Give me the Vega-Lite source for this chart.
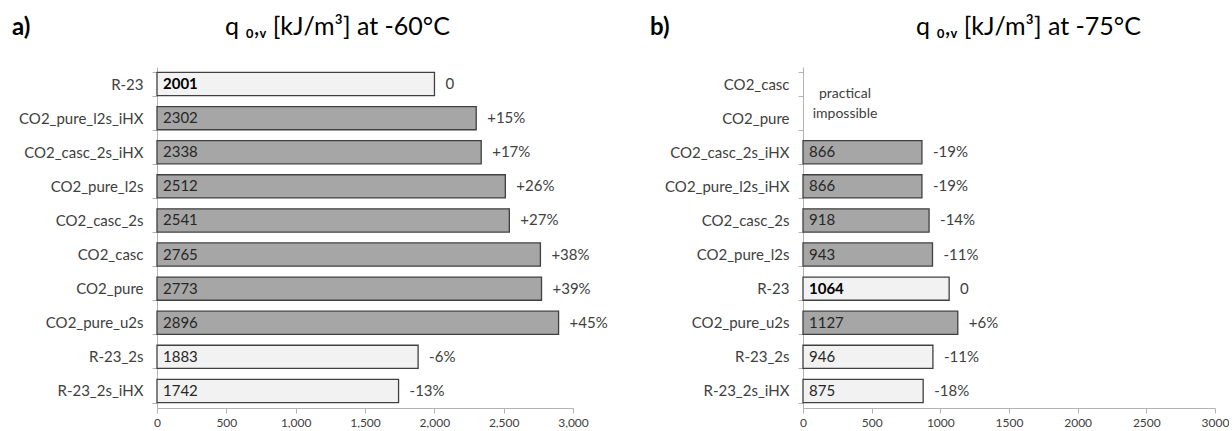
{
  "$schema": "https://vega.github.io/schema/vega-lite/v6.json",
  "background": "white",
  "padding": {"left": 5, "top": 14, "right": 0, "bottom": 0},
  "config": {
    "font": "Lato",
    "view": {"stroke": null},
    "axis": {"grid": false, "labelFont": "Lato", "labelColor": "#404040", "domainColor": "#b3b3b3", "tickColor": "#b3b3b3"}
  },
  "datasets": {
    "left": [
      {"system": "R-23", "value": 2001, "pct": "0", "kind": "R"},
      {"system": "CO2_pure_l2s_iHX", "value": 2302, "pct": "+15%", "kind": "CO2"},
      {"system": "CO2_casc_2s_iHX", "value": 2338, "pct": "+17%", "kind": "CO2"},
      {"system": "CO2_pure_l2s", "value": 2512, "pct": "+26%", "kind": "CO2"},
      {"system": "CO2_casc_2s", "value": 2541, "pct": "+27%", "kind": "CO2"},
      {"system": "CO2_casc", "value": 2765, "pct": "+38%", "kind": "CO2"},
      {"system": "CO2_pure", "value": 2773, "pct": "+39%", "kind": "CO2"},
      {"system": "CO2_pure_u2s", "value": 2896, "pct": "+45%", "kind": "CO2"},
      {"system": "R-23_2s", "value": 1883, "pct": "-6%", "kind": "R"},
      {"system": "R-23_2s_iHX", "value": 1742, "pct": "-13%", "kind": "R"}
    ],
    "right": [
      {"system": "CO2_casc", "value": null, "pct": null, "kind": "CO2", "note": "practical\nimpossible"},
      {"system": "CO2_pure", "value": null, "pct": null, "kind": "CO2", "note": null},
      {"system": "CO2_casc_2s_iHX", "value": 866, "pct": "-19%", "kind": "CO2", "note": null},
      {"system": "CO2_pure_l2s_iHX", "value": 866, "pct": "-19%", "kind": "CO2", "note": null},
      {"system": "CO2_casc_2s", "value": 918, "pct": "-14%", "kind": "CO2", "note": null},
      {"system": "CO2_pure_l2s", "value": 943, "pct": "-11%", "kind": "CO2", "note": null},
      {"system": "R-23", "value": 1064, "pct": "0", "kind": "R", "note": null},
      {"system": "CO2_pure_u2s", "value": 1127, "pct": "+6%", "kind": "CO2", "note": null},
      {"system": "R-23_2s", "value": 946, "pct": "-11%", "kind": "R", "note": null},
      {"system": "R-23_2s_iHX", "value": 875, "pct": "-18%", "kind": "R", "note": null}
    ]
  },
  "spacing": 42,
  "hconcat": [
    {
      "width": 416,
      "height": 341,
      "data": {"name": "left"},
      "title": {"text": "a)", "anchor": "start", "frame": "bounds", "fontSize": 24, "fontWeight": "bold", "font": "Lato", "color": "#000000", "dy": 30, "dx": 7},
      "resolve": {"axis": {"x": "independent"}},
      "encoding": {
        "y": {
          "field": "system", "type": "nominal", "sort": null,
          "scale": {"domain": ["R-23","CO2_pure_l2s_iHX","CO2_casc_2s_iHX","CO2_pure_l2s","CO2_casc_2s","CO2_casc","CO2_pure","CO2_pure_u2s","R-23_2s","R-23_2s_iHX"], "paddingInner": 0.32, "paddingOuter": 0.16},
          "axis": {"title": null, "tickBand": "extent", "tickSize": 5, "labelPadding": 9, "labelFontSize": 15, "minExtent": 152, "maxExtent": 152, "labelLimit": 250}
        }
      },
      "layer": [
        {
          "mark": {"type": "bar", "stroke": "#404040", "strokeWidth": 1.3},
          "encoding": {
            "x": {"field": "value", "type": "quantitative", "scale": {"domain": [0, 3000]},
              "axis": {"orient": "bottom", "values": [0,500,1000,1500,2000,2500,3000], "format": ",d", "title": null, "tickSize": 5, "labelPadding": 4, "labelFontSize": 12, "labelFlush": false}},
            "fill": {"field": "kind", "type": "nominal", "scale": {"domain": ["R", "CO2"], "range": ["#f2f2f2", "#a6a6a6"]}, "legend": null}
          }
        },
        {
          "transform": [{"filter": "datum.system == 'R-23'"}],
          "mark": {"type": "text", "align": "left", "baseline": "middle", "dx": 6, "fontSize": 15, "fontWeight": "bold", "color": "#000000"},
          "encoding": {"x": {"datum": 0, "type": "quantitative", "axis": null}, "text": {"field": "value", "type": "nominal"}}
        },
        {
          "transform": [{"filter": "datum.system != 'R-23' && datum.value != null"}],
          "mark": {"type": "text", "align": "left", "baseline": "middle", "dx": 6, "fontSize": 15, "color": "#262626"},
          "encoding": {"x": {"datum": 0, "type": "quantitative", "axis": null}, "text": {"field": "value", "type": "nominal"}}
        },
        {
          "mark": {"type": "text", "align": "left", "baseline": "middle", "dx": 11, "fontSize": 15, "color": "#404040"},
          "encoding": {
            "x": {"field": "value", "type": "quantitative",
              "axis": {"orient": "top", "labels": false, "ticks": false, "domain": false, "title": "q ₀,ᵥ [kJ/m³] at -60°C", "titleFontSize": 25, "titleFontWeight": "normal", "titleFont": "Lato", "titleColor": "#000000", "titlePadding": 28, "titleX": 180, "titleAlign": "center"}},
            "text": {"field": "pct", "type": "nominal"}
          }
        }
      ]
    },
    {
      "width": 412,
      "height": 341,
      "data": {"name": "right"},
      "title": {"text": "b)", "anchor": "start", "frame": "bounds", "fontSize": 24, "fontWeight": "bold", "font": "Lato", "color": "#000000", "dy": 30, "dx": -14},
      "resolve": {"axis": {"x": "independent"}},
      "encoding": {
        "y": {
          "field": "system", "type": "nominal", "sort": null,
          "scale": {"domain": ["CO2_casc","CO2_pure","CO2_casc_2s_iHX","CO2_pure_l2s_iHX","CO2_casc_2s","CO2_pure_l2s","R-23","CO2_pure_u2s","R-23_2s","R-23_2s_iHX"], "paddingInner": 0.32, "paddingOuter": 0.16},
          "axis": {"title": null, "tickBand": "extent", "tickSize": 5, "labelPadding": 9, "labelFontSize": 15, "minExtent": 139, "maxExtent": 139, "labelLimit": 250}
        }
      },
      "layer": [
        {
          "transform": [{"filter": "datum.value != null"}],
          "mark": {"type": "bar", "stroke": "#404040", "strokeWidth": 1.3},
          "encoding": {
            "x": {"field": "value", "type": "quantitative", "scale": {"domain": [0, 3000]},
              "axis": {"orient": "bottom", "values": [0,500,1000,1500,2000,2500,3000], "format": "d", "title": null, "tickSize": 5, "labelPadding": 4, "labelFontSize": 12, "labelFlush": false}},
            "fill": {"field": "kind", "type": "nominal", "scale": {"domain": ["R", "CO2"], "range": ["#f2f2f2", "#a6a6a6"]}, "legend": null}
          }
        },
        {
          "transform": [{"filter": "datum.system == 'R-23'"}],
          "mark": {"type": "text", "align": "left", "baseline": "middle", "dx": 6, "fontSize": 15, "fontWeight": "bold", "color": "#000000"},
          "encoding": {"x": {"datum": 0, "type": "quantitative", "axis": null}, "text": {"field": "value", "type": "nominal"}}
        },
        {
          "transform": [{"filter": "datum.system != 'R-23' && datum.value != null"}],
          "mark": {"type": "text", "align": "left", "baseline": "middle", "dx": 6, "fontSize": 15, "color": "#262626"},
          "encoding": {"x": {"datum": 0, "type": "quantitative", "axis": null}, "text": {"field": "value", "type": "nominal"}}
        },
        {
          "transform": [{"filter": "datum.note != null"}],
          "mark": {"type": "text", "align": "center", "baseline": "middle", "dx": 42, "dy": 10, "fontSize": 14, "lineBreak": "\n", "lineHeight": 20, "color": "#404040"},
          "encoding": {"x": {"datum": 0, "type": "quantitative", "axis": null}, "text": {"field": "note", "type": "nominal"}}
        },
        {
          "transform": [{"filter": "datum.value != null"}],
          "mark": {"type": "text", "align": "left", "baseline": "middle", "dx": 11, "fontSize": 15, "color": "#404040"},
          "encoding": {
            "x": {"field": "value", "type": "quantitative",
              "axis": {"orient": "top", "labels": false, "ticks": false, "domain": false, "title": "q ₀,ᵥ [kJ/m³] at -75°C", "titleFontSize": 25, "titleFontWeight": "normal", "titleFont": "Lato", "titleColor": "#000000", "titlePadding": 28, "titleX": 225, "titleAlign": "center"}},
            "text": {"field": "pct", "type": "nominal"}
          }
        }
      ]
    }
  ]
}
